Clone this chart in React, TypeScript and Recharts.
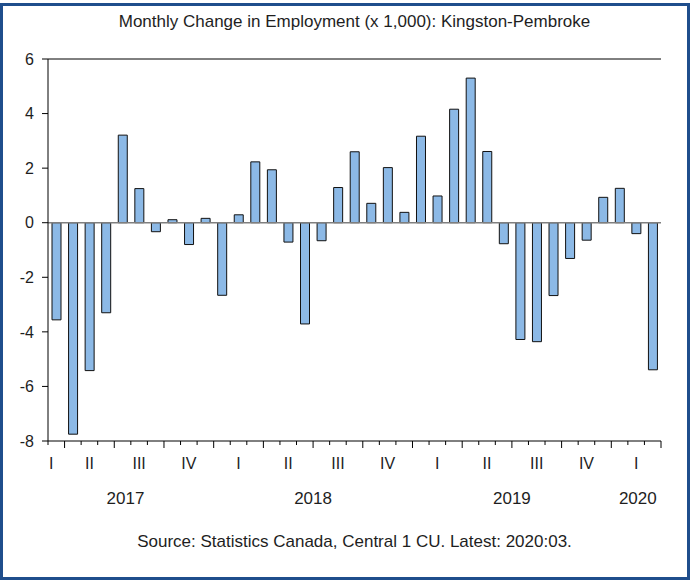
import { BarChart, Bar, XAxis, YAxis, ReferenceLine } from 'recharts';

// monthly change in employment, thousands (Mar 2017 .. Mar 2020)
const months = [
  '2017-03', '2017-04', '2017-05', '2017-06', '2017-07', '2017-08', '2017-09', '2017-10', '2017-11', '2017-12',
  '2018-01', '2018-02', '2018-03', '2018-04', '2018-05', '2018-06', '2018-07', '2018-08', '2018-09', '2018-10', '2018-11', '2018-12',
  '2019-01', '2019-02', '2019-03', '2019-04', '2019-05', '2019-06', '2019-07', '2019-08', '2019-09', '2019-10', '2019-11', '2019-12',
  '2020-01', '2020-02', '2020-03',
];

const change = [
  -3.56, -7.75, -5.42, -3.3, 3.21, 1.25, -0.33, 0.11, -0.8, 0.16,
  -2.66, 0.29, 2.23, 1.94, -0.71, -3.71, -0.66, 1.29, 2.6, 0.71, 2.02, 0.38,
  3.17, 0.98, 4.16, 5.3, 2.61, -0.77, -4.28, -4.36, -2.67, -1.31, -0.64, 0.93,
  1.26, -0.4, -5.39,
];

const quarterNames = ['I', 'II', 'III', 'IV'];
const yTicks = [-8, -6, -4, -2, 0, 2, 4, 6];

const data = months.map((m, i) => ({ month: m, v: change[i] }));

const W = 691;
const H = 581;
const PLOT = { left: 48, top: 59, right: 661, bottom: 441 };
const BAND = (PLOT.right - PLOT.left) / months.length;
const FONT = '"Liberation Sans", Arial, sans-serif';
const INK = '#1e1e1e';

// where the year captions sit, in band units from the month centre
const YEAR_AT: Record<string, [string, number]> = {
  '2017-07': ['2017', 0.18],
  '2018-06': ['2018', 0.5],
  '2019-06': ['2019', 0.5],
  '2020-02': ['2020', 0.1],
};

function MonthTick(props: any) {
  const { x, y, payload } = props;
  const i = payload.index;
  const mm = Number(months[i].slice(5));
  const left = x - BAND / 2;
  const right = x + BAND / 2;
  const qStart = (mm - 1) % 3 === 0;
  const lastQEnd = mm % 3 === 0;

  let qLabel: string | null = null;
  let qdx = 0;
  if ((mm - 2) % 3 === 0) qLabel = quarterNames[(mm - 2) / 3];
  if (i === 0 && mm % 3 === 0) {
    qLabel = quarterNames[mm / 3 - 1];
    qdx = -5;
  }
  const year = YEAR_AT[months[i]];

  return (
    <g>
      <line x1={left} x2={left} y1={y} y2={y + (qStart ? 7 : 4)} stroke="#000" />
      {i === months.length - 1 && (
        <line x1={right} x2={right} y1={y} y2={y + (lastQEnd ? 7 : 4)} stroke="#000" />
      )}
      {qLabel && (
        <text x={x + qdx} y={y + 28} textAnchor="middle" fontSize={16} fill={INK} fontFamily={FONT}>
          {qLabel}
        </text>
      )}
      {year && (
        <text x={x + year[1] * BAND} y={y + 63} textAnchor="middle" fontSize={17} fill={INK} fontFamily={FONT}>
          {year[0]}
        </text>
      )}
    </g>
  );
}

const captionStyle: React.CSSProperties = {
  position: 'absolute',
  left: PLOT.left - 20,
  width: PLOT.right - PLOT.left + 40,
  lineHeight: '17px',
  fontSize: 17,
  color: INK,
  textAlign: 'center',
  whiteSpace: 'nowrap',
};

export default function App() {
  return (
    <div style={{ position: 'relative', width: W, height: H, background: '#fff', fontFamily: FONT }}>
      <style>{'body{margin:0}'}</style>
      <div
        style={{
          position: 'absolute',
          left: 0,
          top: 3,
          width: W - 1,
          height: H - 4,
          border: '3px solid #1f4e8c',
          boxSizing: 'border-box',
          pointerEvents: 'none',
        }}
      />
      <div style={{ ...captionStyle, top: 13 }}>
        Monthly Change in Employment (x 1,000): Kingston-Pembroke
      </div>

      <BarChart
        width={W}
        height={H}
        data={data}
        margin={{ top: PLOT.top, right: W - PLOT.right, left: 0, bottom: H - PLOT.bottom - 100 }}
        barCategoryGap={0}
      >
        <XAxis
          dataKey="month"
          interval={0}
          height={100}
          tickSize={0}
          tickMargin={0}
          tickLine={false}
          axisLine={{ stroke: '#000' }}
          tick={<MonthTick />}
        />
        <YAxis
          domain={[-8, 6]}
          ticks={yTicks}
          width={PLOT.left}
          tickSize={6}
          tickMargin={8}
          interval={0}
          axisLine={{ stroke: '#000' }}
          tickLine={{ stroke: '#000' }}
          tick={{ fill: INK, fontSize: 16, fontFamily: FONT }}
        />
        <YAxis
          yAxisId="right"
          orientation="right"
          width={0}
          domain={[0, 1]}
          tick={false}
          tickLine={false}
          axisLine={{ stroke: '#000' }}
        />
        <ReferenceLine y={6} stroke="#000" strokeWidth={1} />
        <ReferenceLine y={0} stroke="#7f7f7f" strokeWidth={1.5} />
        <Bar dataKey="v" fill="#8cb9e6" stroke="#111" strokeWidth={1} barSize={9} isAnimationActive={false} />
      </BarChart>

      <div style={{ ...captionStyle, top: 533 }}>
        Source: Statistics Canada, Central 1 CU. Latest: 2020:03.
      </div>
    </div>
  );
}
